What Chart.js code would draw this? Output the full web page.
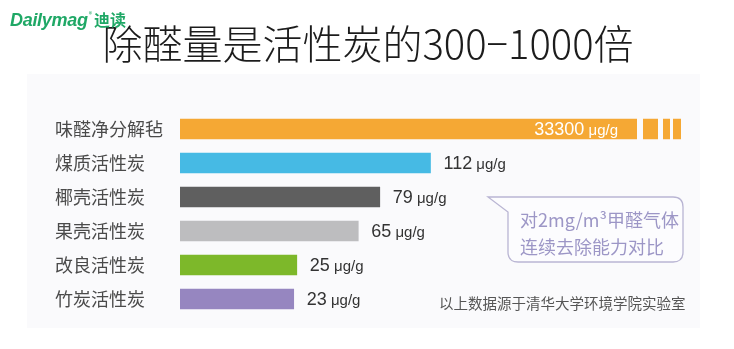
<!DOCTYPE html>
<html>
<head>
<meta charset="utf-8">
<script src="https://cdn.jsdelivr.net/npm/chart.js@4.4.1/dist/chart.umd.min.js"></script>
<style>
  html, body { margin: 0; padding: 0; background: #fff; }
  #wrap { position: relative; width: 734px; height: 349px; overflow: hidden; font-family: "Noto Sans CJK SC", "Noto Sans", sans-serif; }
  #panel { position: absolute; left: 27px; top: 74px; width: 673px; height: 254px; background: #fafafc; }
  #chart { position: absolute; left: 0; top: 0; }
  #logo { position: absolute; left: 10px; top: 7px; color: #1fa866; white-space: nowrap; }
  #logo .en { font-family: "Liberation Sans", Arial, sans-serif; font-style: italic; font-weight: bold; font-size: 18px; letter-spacing: -0.3px; }
  #logo sup { font-size: 7px; vertical-align: 9px; margin-left: 1px; }
  #logo .cn { font-weight: bold; font-size: 16px; margin-left: 2px; }
  #bubble { position: absolute; left: 0; top: 0; }
  #source { position: absolute; left: 439px; top: 292px; font-size: 14.5px; color: #555; white-space: nowrap; }
</style>
</head>
<body>
<div id="wrap">
  <div id="panel"></div>
  <canvas id="chart" width="734" height="349"></canvas>
  <div id="logo"><span class="en">Dailymag</span><sup>®</sup><span class="cn">迪读</span></div>
  <svg id="bubble" width="734" height="349">
    <path d="M488,197 H673 Q683,197 683,207 V252 Q683,262 673,262 H518 Q508,262 508,252 V212 Z"
          fill="#fcfcfe" stroke="#b9b5d3" stroke-width="1.3"/>
    <text x="520" y="227" font-family="Noto Sans CJK SC" font-size="18" fill="#9c96c6">对2mg/m³甲醛气体</text>
    <text x="520" y="254" font-family="Noto Sans CJK SC" font-size="18" fill="#9c96c6">连续去除能力对比</text>
  </svg>
  <div id="source">以上数据源于清华大学环境学院实验室</div>
</div>
<script>
const categories = ["味醛净分解毡", "煤质活性炭", "椰壳活性炭", "果壳活性炭", "改良活性炭", "竹炭活性炭"];
const removal = [33300, 112, 79, 65, 25, 23];
const unit = "μg/g";
const barColors = ["#f5a834", "#46bae4", "#5f5f5f", "#bdbdbf", "#7db82a", "#9686c0"];

const xMin = -51;
const xMax = 275;

// value labels next to (or inside) each bar
const valueLabels = {
  id: "valueLabels",
  afterDatasetsDraw(chart) {
    const ctx = chart.ctx;
    const area = chart.chartArea;
    const bars = chart.getDatasetMeta(0).data;
    ctx.save();
    ctx.textBaseline = "middle";
    bars.forEach((bar, i) => {
      const num = String(removal[i]);
      ctx.font = '18px "Liberation Sans", Arial, sans-serif';
      const wNum = ctx.measureText(num).width;
      ctx.font = '15px "Liberation Sans", Arial, sans-serif';
      const wUnit = ctx.measureText(" " + unit).width;
      let x;
      if (bar.x > area.right) {
        // broken bar: white label inside
        x = area.right - 63 - wNum - wUnit;
        ctx.fillStyle = "#fff";
      } else {
        x = bar.x + 13;
        ctx.fillStyle = "#333";
      }
      ctx.textAlign = "left";
      ctx.font = '18px "Liberation Sans", Arial, sans-serif';
      ctx.fillText(num, x, bar.y + 1);
      ctx.font = '15px "Liberation Sans", Arial, sans-serif';
      ctx.fillText(" " + unit, x + wNum, bar.y + 2);
    });
    ctx.restore();
  }
};

// axis-break stripes on the overflowing bar
const barBreak = {
  id: "barBreak",
  afterDatasetsDraw(chart) {
    const ctx = chart.ctx;
    const area = chart.chartArea;
    const bars = chart.getDatasetMeta(0).data;
    ctx.save();
    ctx.fillStyle = "#fafafc";
    bars.forEach((bar) => {
      if (bar.x <= area.right) return;
      const top = bar.y - bar.height / 2 - 1;
      const h = bar.height + 2;
      ctx.fillRect(area.right - 44, top, 6, h);
      ctx.fillRect(area.right - 23, top, 5, h);
      ctx.fillRect(area.right - 11, top, 3, h);
    });
    ctx.restore();
  }
};

new Chart(document.getElementById("chart").getContext("2d"), {
  type: "bar",
  data: {
    labels: categories,
    datasets: [{
      data: removal,
      backgroundColor: barColors,
      borderWidth: 0,
      barThickness: 20,
      base: xMin,
    }],
  },
  options: {
    indexAxis: "y",
    responsive: false,
    animation: false,
    devicePixelRatio: 1,
    layout: { padding: { left: 55, right: 53, top: 0, bottom: 33 } },
    scales: {
      x: {
        type: "linear",
        display: false,
        min: xMin,
        max: xMax,
      },
      y: {
        type: "category",
        grid: { display: false, drawTicks: false },
        border: { display: false },
        ticks: {
          crossAlign: "far",
          padding: 0,
          color: "#4a4a4a",
          font: { family: '"Noto Sans CJK SC"', size: 18 },
        },
        afterFit(scale) { scale.width = 125; },
      },
    },
    plugins: {
      legend: { display: false },
      tooltip: { enabled: false },
      title: {
        display: true,
        text: "除醛量是活性炭的300−1000倍",
        color: "#1c1c1c",
        font: { family: '"Noto Sans CJK SC"', size: 40, weight: 300 },
        padding: { top: 20, bottom: 44 },
      },
    },
  },
  plugins: [barBreak, valueLabels],
});
</script>
</body>
</html>
